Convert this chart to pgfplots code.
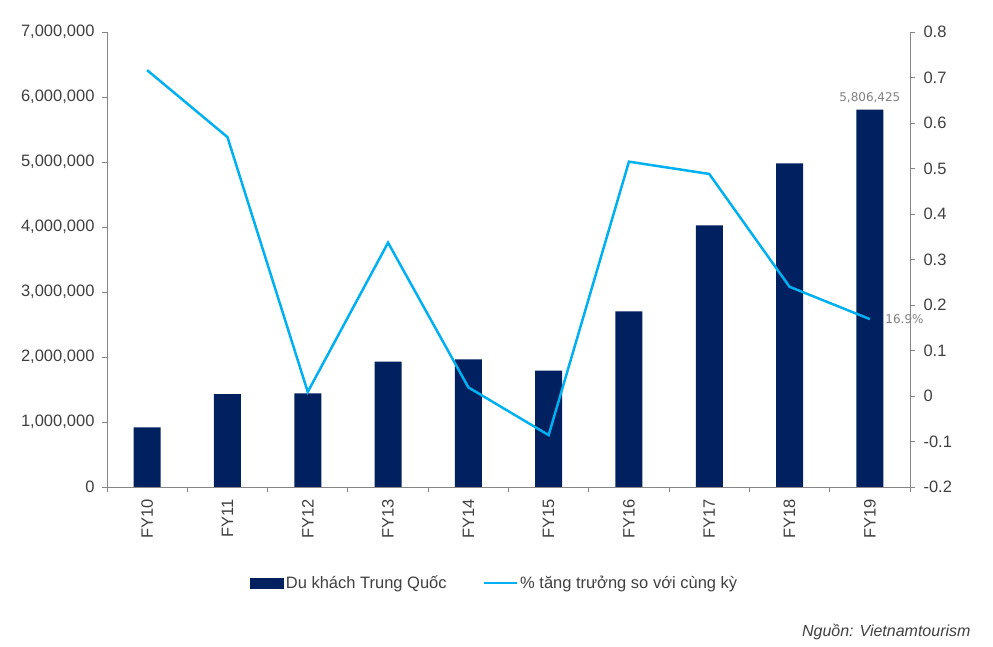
\documentclass[border=0pt]{standalone}
\usepackage{fontspec}
\setmainfont{Liberation Sans}
\newfontfamily\dejavu{DejaVu Sans}
\usepackage{pgfplots}
\usepackage{pgfplotstable}
\pgfplotsset{compat=1.18}
\definecolor{navy}{HTML}{002060}
\definecolor{cyanl}{HTML}{00B0F0}
\definecolor{axgrey}{HTML}{868686}
\definecolor{txt}{HTML}{404040}
\definecolor{lab}{HTML}{7F7F7F}

\pgfplotstableread{
x visitors growth
0 918000 0.716
1 1430000 0.569
2 1440000 0.009
3 1928000 0.337
4 1965000 0.019
5 1789000 -0.086
6 2703000 0.515
7 4026000 0.488
8 4980000 0.240
9 5806425 0.169
}\data

\begin{document}
\begin{tikzpicture}
\path[use as bounding box] (0,0) rectangle (993pt,647pt);
\pgfplotsset{
  base/.style={
    scale only axis, width=803pt, height=455pt,
    at={(107pt,160pt)}, anchor=south west,
    xmin=-0.5, xmax=9.5,
    tick align=outside, major tick length=5pt, minor tick length=5pt,
    axis line style={axgrey, line width=0.9pt},
    every tick/.style={axgrey, line width=0.9pt},
    tick label style={font=\fontsize{16.5}{19}\selectfont, text=txt},
    /pgf/number format/assume math mode=true,
  }
}
\begin{axis}[base,
  axis x line*=bottom, axis y line*=left,
  ymin=0, ymax=7000000,
  ytick={0,1000000,...,7000000},
  scaled y ticks=false,
  yticklabel style={/pgf/number format/.cd, fixed, 1000 sep={,}, /tikz/.cd, xshift=-4pt},
  xtick={0,...,9},
  xticklabels={FY10,FY11,FY12,FY13,FY14,FY15,FY16,FY17,FY18,FY19},
  major x tick style={draw=none},
  minor xtick={-0.5,0.5,...,9.5},
  xticklabel style={rotate=90, anchor=east, xshift=-4pt},
]
\addplot[ybar, bar width=27pt, fill=navy, draw=none] table[x=x, y=visitors] {\data};
\node[anchor=south, yshift=3pt, font=\dejavu\fontsize{12}{14}\selectfont, text=lab] at (axis cs:9,5806425) {5,806,425};
\end{axis}
\begin{axis}[base,
  clip=false,
  axis x line=none, axis y line*=right,
  ymin=-0.2, ymax=0.8,
  ytick={-0.2,-0.1,0,0.1,0.2,0.3,0.4,0.5,0.6,0.7,0.8},
  yticklabel style={/pgf/number format/.cd, fixed, precision=1, /tikz/.cd, xshift=5pt},
  legend columns=2,
  legend style={draw=none, at={(0.483,-0.211)}, anchor=center,
    font=\fontsize{16.5}{19}\selectfont, text=txt,
    /tikz/every even column/.append style={column sep=34pt}},
]
\addlegendimage{legend image code/.code={\fill[navy] (0pt,-5pt) rectangle (33pt,5pt);}}
\addlegendentry{Du khách Trung Quốc}
\addplot[cyanl, line width=2.5pt, mark=none,
  legend image code/.code={\draw[cyanl, line width=2.5pt] (0pt,0pt) -- (33pt,0pt);}]
  table[x=x, y=growth] {\data};
\addlegendentry{\% tăng trưởng so với cùng kỳ}
\node[anchor=west, font=\dejavu\fontsize{12}{14}\selectfont, text=lab] at (axis cs:9.15,0.169) {16.9\%};
\end{axis}
\node[anchor=east, font=\itshape\fontsize{16}{18}\selectfont, text=txt] at (974pt,15pt) {Nguồn: Vietnamtourism};
\end{tikzpicture}
\end{document}
